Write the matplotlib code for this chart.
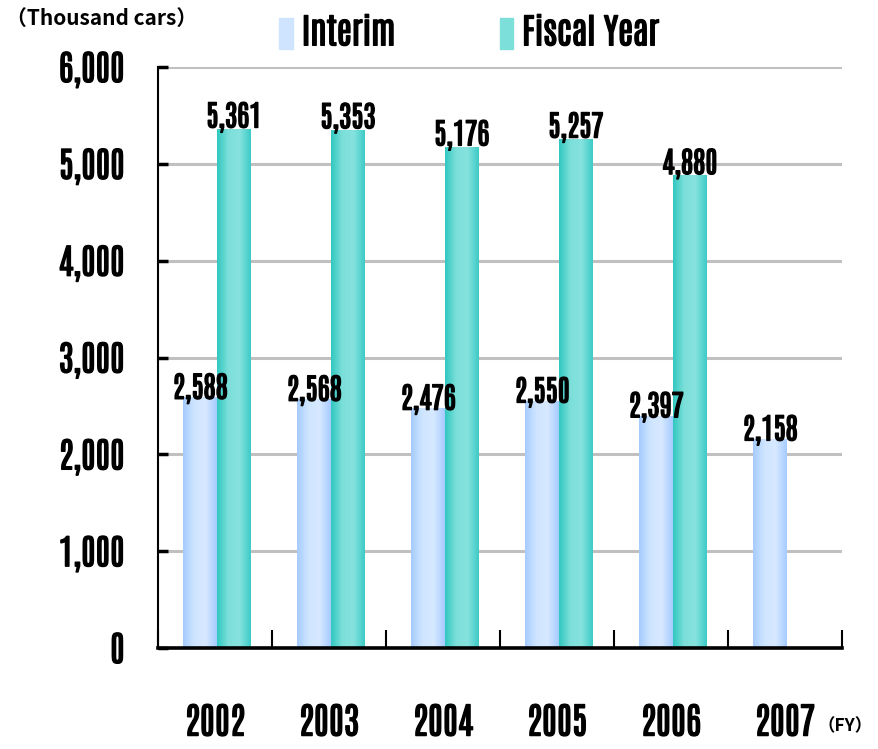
import matplotlib
matplotlib.use("Agg")
import matplotlib.pyplot as plt
import matplotlib.patheffects as pe
import numpy as np
from matplotlib.colors import LinearSegmentedColormap
from matplotlib.ticker import FuncFormatter, FixedLocator

years = ["2002", "2003", "2004", "2005", "2006", "2007"]
interim = [2588, 2568, 2476, 2550, 2397, 2158]
fiscal = [5361, 5353, 5176, 5257, 4880]
yticks = [0, 1000, 2000, 3000, 4000, 5000, 6000]

narrow = ["Antonio", "Oswald", "DejaVu Sans"]
plain = ["Noto Sans CJK JP", "DejaVu Sans"]
heavy = [pe.withStroke(linewidth=1.0, foreground="black")]

interim_stops = ["#a4cbfd", "#cfe5ff", "#d6e9ff", "#a6cbff"]
fiscal_stops = ["#2fc7c0", "#7ddfda", "#86e2de", "#3ccbc6"]

fig = plt.figure(figsize=(8.79, 7.49), dpi=100)
ax = fig.add_axes([158 / 879, 1 - 648 / 749, 684 / 879, 581 / 749])

x = np.arange(len(years))
w = 0.295
b1 = ax.bar(x - 0.13, interim, width=w, color=interim_stops[1], zorder=3)
b2 = ax.bar(x[:len(fiscal)] + 0.165, fiscal, width=w, color=fiscal_stops[1], zorder=3)


def shade(bars, stops):
    # horizontal gradient painted inside each bar
    cmap = LinearSegmentedColormap.from_list("g", stops)
    grad = np.linspace(0, 1, 256).reshape(1, -1)
    for b in bars:
        x0, y0 = b.get_x(), b.get_y()
        im = ax.imshow(grad, cmap=cmap, aspect="auto", interpolation="bicubic",
                       extent=[x0, x0 + b.get_width(), y0, y0 + b.get_height()],
                       zorder=3)
        im.set_clip_path(b)
        b.set_facecolor("none")
        b.set_edgecolor("none")


shade(b1, interim_stops)
shade(b2, fiscal_stops)

for bars, vals, dy in ((b1, interim, -1), (b2, fiscal, 1)):
    for b, v in zip(bars, vals):
        ax.annotate(f"{v:,}", (b.get_x() + b.get_width() / 2, v),
                    xytext=(0, dy), textcoords="offset points",
                    ha="center", va="baseline", fontsize=21,
                    fontweight="bold", family=narrow, zorder=5,
                    path_effects=heavy)

ax.set_xlim(-0.5, len(years) - 0.5)
ax.set_ylim(0, 6000)
ax.set_yticks(yticks)
ax.yaxis.set_major_formatter(FuncFormatter(lambda v, p: f"{int(v):,}"))
ax.set_xticks(x)
ax.set_xticklabels(years)
ax.xaxis.set_minor_locator(FixedLocator(np.arange(len(years) + 1) - 0.5))

ax.grid(axis="y", color="#c0c0c0", linewidth=2.2, zorder=0)
ax.set_axisbelow(True)
for s in ("top", "right"):
    ax.spines[s].set_visible(False)
ax.spines["left"].set_linewidth(1.5)
ax.spines["bottom"].set_linewidth(2.6)
ax.spines["bottom"].set_zorder(6)

ax.tick_params(axis="y", direction="in", length=7, width=2.5, pad=24)
ax.tick_params(axis="x", which="major", length=0, pad=40)
ax.tick_params(axis="x", which="minor", direction="in", length=13, width=1.5)
for lab in ax.get_yticklabels():
    lab.set_family(narrow)
    lab.set_fontweight("bold")
    lab.set_fontsize(25)
    lab.set_path_effects(heavy)
for lab in ax.get_xticklabels():
    lab.set_family(narrow)
    lab.set_fontweight("bold")
    lab.set_fontsize(26)
    lab.set_path_effects(heavy)

fig.text(6 / 879, 1 - 18 / 749, "（Thousand cars）", family=plain,
         fontweight="bold", fontsize=15, va="center", ha="left")
fig.text(818 / 879, 1 - 726 / 749, "（FY）", family=plain,
         fontweight="bold", fontsize=12.5, va="center", ha="left")

handles = [plt.Rectangle((0, 0), 1, 1, color=interim_stops[1]),
           plt.Rectangle((0, 0), 1, 1, color=fiscal_stops[1])]
leg = fig.legend(handles, ["Interim", "Fiscal Year"], loc="upper left",
                 bbox_to_anchor=(255 / 879, 1.012), ncol=2, frameon=False,
                 handlelength=0.4, handleheight=1.0, handletextpad=0.25,
                 columnspacing=3.0, borderaxespad=0.3,
                 prop={"family": narrow, "weight": "bold", "size": 25})
for t in leg.get_texts():
    t.set_path_effects(heavy)

fig.savefig("out.png", dpi=100)
